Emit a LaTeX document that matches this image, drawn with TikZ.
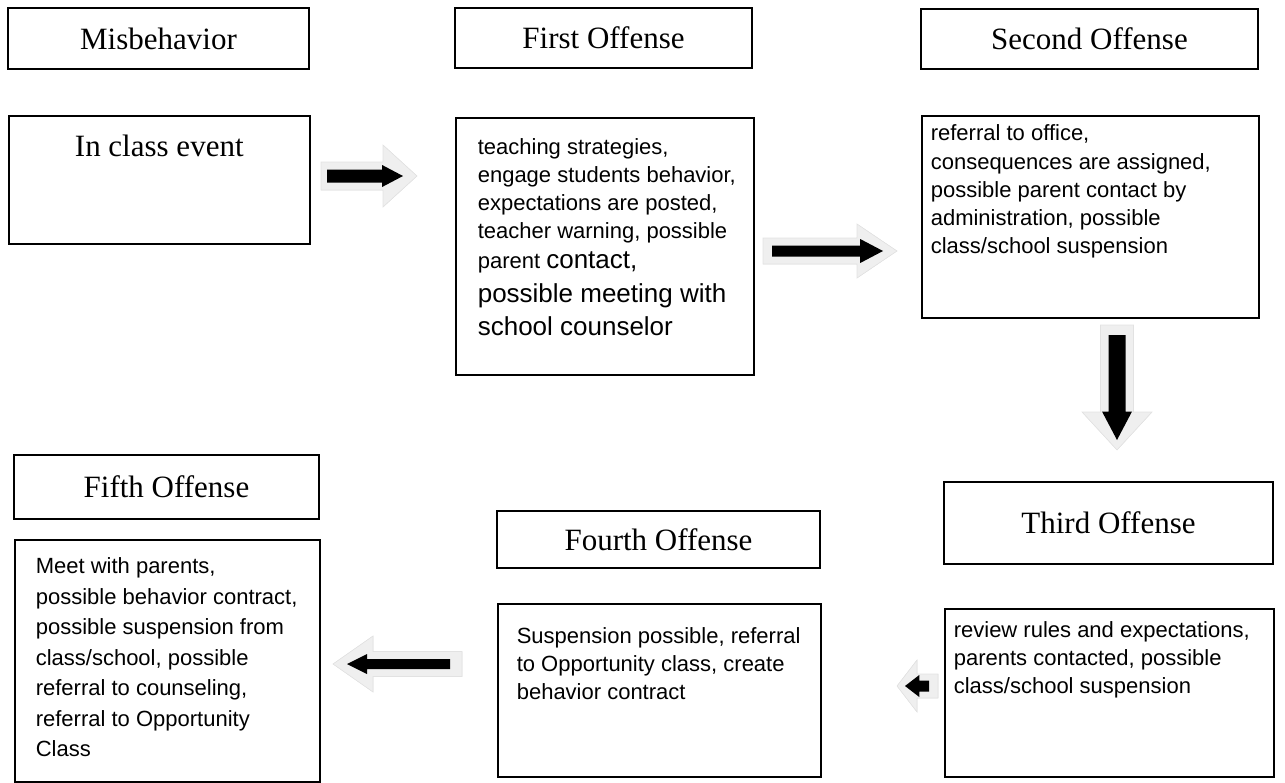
\documentclass[tikz,border=0pt]{standalone}
\usepackage{fontspec}
\setmainfont{Liberation Serif}
\newfontfamily\arialf{Liberation Sans}
\definecolor{lightarr}{HTML}{EFEFEF}
\definecolor{edgearr}{HTML}{E2E2E2}
\definecolor{shadarr}{HTML}{BDBDBD}
\def\bkf{1.9}
% #1 placement options, #2 length, #3 shaft half, #4 head half, #5 head length,
% #6 black start, #7 black tip, #8 black shaft half, #9 black head half
\newcommand{\barrow}[9]{%
  \pgfmathsetmacro\bK{\bkf*#9}%
  \fill[shadarr,xshift=3pt,yshift=-4pt,#1] (0,-#3)--({#2-#5},-#3)--({#2-#5},-#4)--(#2,0)--({#2-#5},#4)--({#2-#5},#3)--(0,#3)--cycle;
  \filldraw[fill=lightarr,draw=edgearr,line width=0.6pt,#1] (0,-#3)--({#2-#5},-#3)--({#2-#5},-#4)--(#2,0)--({#2-#5},#4)--({#2-#5},#3)--(0,#3)--cycle;
  \fill[black,#1] (#6,-#8)--({#7-\bK},-#8)--({#7-\bK},-#9)--(#7,0)--({#7-\bK},#9)--({#7-\bK},#8)--(#6,#8)--cycle;
}
% #1 width, #2 height, #3 left pad, #4 top pad, #5 text
\newcommand{\ctext}[5]{\parbox[c][#2pt][t]{#1pt}{\arialf\raggedright\leftskip=#3pt\relax\vspace*{#4pt}#5}}
\tikzset{
  hdr/.style={draw, line width=1.6pt, inner sep=0pt, font=\fontsize{31}{36}\selectfont},
  cnt/.style={draw, line width=1.6pt, inner sep=0pt, anchor=north west},
}
\begin{document}
\begin{tikzpicture}[x=1pt,y=-1pt]
\useasboundingbox (0,0) rectangle (1285,782);
% header boxes
\node[hdr, minimum width=301pt, minimum height=61pt] (mis) at (158.5,38.5) {Misbehavior};
\node[hdr, minimum width=297pt, minimum height=60pt] (h1) at (603.5,38) {First Offense};
\node[hdr, minimum width=337pt, minimum height=60pt] (h2) at (1089.5,39) {Second Offense};
\node[hdr, minimum width=329pt, minimum height=82pt] (h3) at (1108.5,523) {Third Offense};
\node[hdr, minimum width=323pt, minimum height=57pt] (h4) at (658.5,539.5) {Fourth Offense};
\node[hdr, minimum width=305pt, minimum height=64pt] (h5) at (166.5,487) {Fifth Offense};
% content boxes
\node[cnt] (event) at (8,115) {\parbox[c][128pt][t]{301pt}{\centering\fontsize{31}{36}\selectfont\vspace*{19pt}In class event}};
\node[cnt] (c1) at (455,117) {\ctext{298}{257}{22}{21}{%
  \fontsize{22}{28}\selectfont teaching strategies,\\engage students behavior,\\expectations are posted,\\teacher warning, possible\par
  \fontsize{22}{30}\selectfont parent {\fontsize{26}{30}\selectfont contact,}\par
  \fontsize{26}{33.5}\selectfont possible meeting with\\school counselor\par}};
\node[cnt] (c2) at (921,115) {\ctext{337}{202}{9}{9}{%
  \fontsize{22}{28.3}\selectfont referral to office,\\consequences are assigned,\\possible parent contact by\\administration, possible\\class/school suspension\par}};
\node[cnt] (c3) at (944,608) {\ctext{329}{168}{9}{13}{%
  \fontsize{22}{28}\selectfont review rules and expectations,\\parents contacted, possible\\class/school suspension\par}};
\node[cnt] (c4) at (497,603) {\ctext{323}{173}{19}{24}{%
  \fontsize{22}{28}\selectfont Suspension possible, referral\\to Opportunity class, create\\behavior contract\par}};
\node[cnt] (c5) at (14,539) {\ctext{305}{242}{21}{18}{%
  \fontsize{22}{30.5}\selectfont Meet with parents,\\possible behavior contract,\\possible suspension from\\class/school, possible\\referral to counseling,\\referral to Opportunity\\Class\par}};
% block arrows
\coordinate (a1) at (321,176);
\coordinate (a2) at (763,251);
\coordinate (a3) at (1117,325);
\coordinate (a4) at (938,686);
\coordinate (a5) at (462,664);
\barrow{shift={(a1)}}{96}{14}{31}{34}{6}{82}{6.5}{11}
\barrow{shift={(a2)}}{134}{13}{27}{40}{9}{120}{5.5}{12}
\barrow{shift={(a3)},rotate=-90}{125}{16.5}{35}{38}{10}{115}{8.5}{15}
\def\bkf{1.3}
\barrow{shift={(a4)},rotate=180}{41}{12}{26}{20}{9}{33}{5.5}{11}
\def\bkf{2}
\barrow{shift={(a5)},rotate=180}{129}{12.5}{28}{40}{12}{115}{5}{10}
\end{tikzpicture}
\end{document}
